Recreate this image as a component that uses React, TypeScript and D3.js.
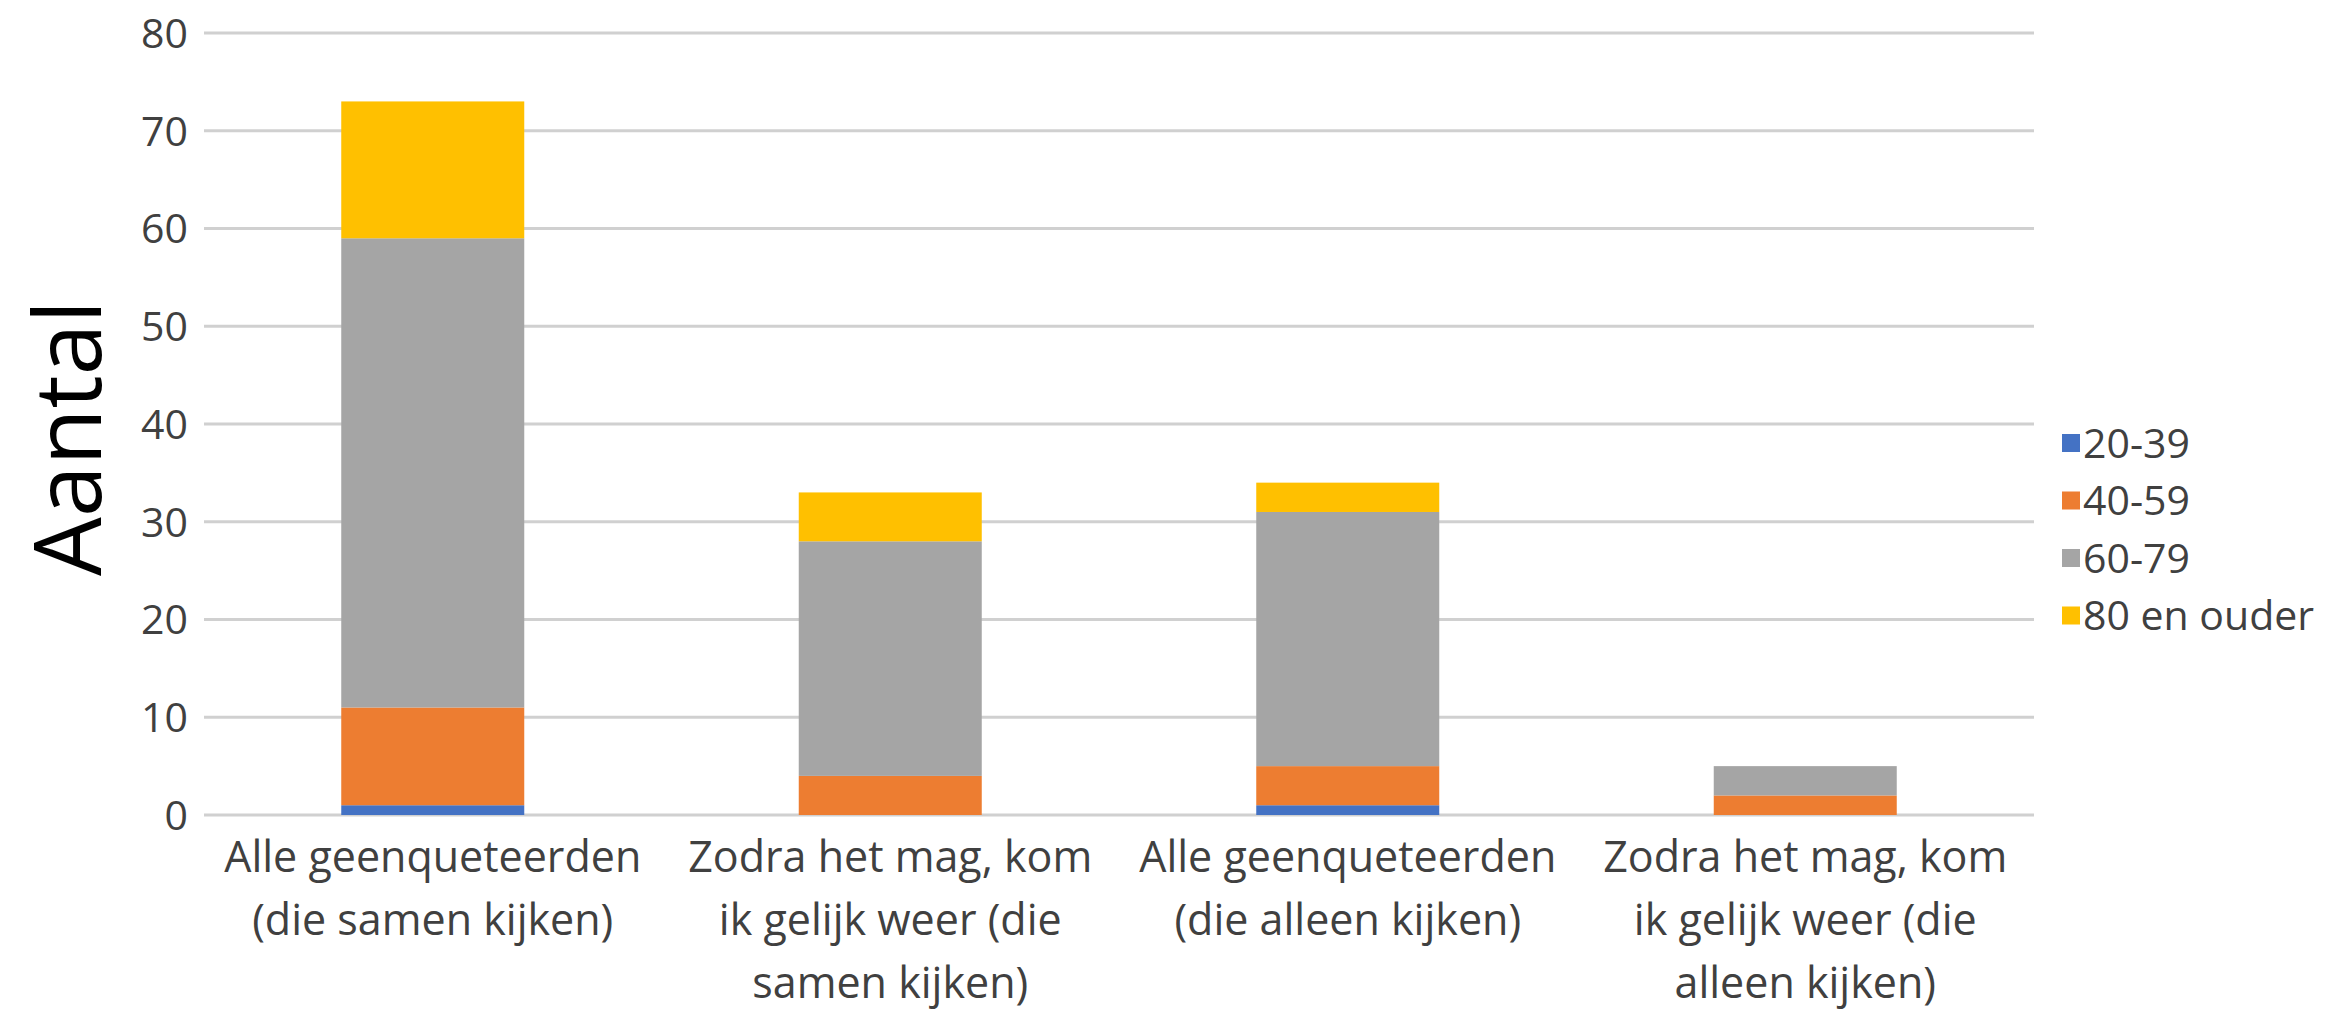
import React, { useEffect, useRef } from 'react';
import * as d3 from 'd3';

// categories (already wrapped the way the original chart wraps them)
const categories = [
  ['Alle geenqueteerden', '(die samen kijken)'],
  ['Zodra het mag, kom', 'ik gelijk weer (die', 'samen kijken)'],
  ['Alle geenqueteerden', '(die alleen kijken)'],
  ['Zodra het mag, kom', 'ik gelijk weer (die', 'alleen kijken)'],
];
const seriesNames = ['20-39', '40-59', '60-79', '80 en ouder'];
const seriesColors = ['#4472C4', '#ED7D31', '#A5A5A5', '#FFC000'];
const age20to39 = [1, 0, 1, 0];
const age40to59 = [10, 4, 4, 2];
const age60to79 = [48, 24, 26, 3];
const age80plus = [14, 5, 3, 0];
const yTicks = [0, 10, 20, 30, 40, 50, 60, 70, 80];

const W = 2325;
const H = 1014;
const FONT = '"Open Sans", sans-serif';

export default function App() {
  const ref = useRef<SVGSVGElement>(null);

  useEffect(() => {
    const svg = d3.select(ref.current);
    svg.selectAll('*').remove();

    const left = 204, right = 2034, top = 33, bottom = 815;

    const rows = categories.map((c, i) => ({
      key: i,
      '20-39': age20to39[i],
      '40-59': age40to59[i],
      '60-79': age60to79[i],
      '80 en ouder': age80plus[i],
    }));

    const x = d3.scaleBand<number>()
      .domain(categories.map((c, i) => i))
      .range([left, right])
      .paddingInner(0.6)
      .paddingOuter(0.3);
    const y = d3.scaleLinear().domain([0, 80]).range([bottom, top]);

    // gridlines
    svg.append('g')
      .selectAll('line')
      .data(yTicks)
      .enter()
      .append('line')
      .attr('x1', left)
      .attr('x2', right)
      .attr('y1', d => y(d))
      .attr('y2', d => y(d))
      .attr('stroke', '#d0d0d0')
      .attr('stroke-width', 3);

    // y tick labels
    svg.append('g')
      .selectAll('text')
      .data(yTicks)
      .enter()
      .append('text')
      .attr('x', 188)
      .attr('y', d => y(d))
      .attr('dy', '0.36em')
      .attr('text-anchor', 'end')
      .attr('font-family', FONT)
      .attr('font-size', 41)
      .attr('fill', '#404040')
      .text(d => d);

    // stacked bars
    const stacked = d3.stack<any>().keys(seriesNames)(rows);
    svg.append('g')
      .selectAll('g')
      .data(stacked)
      .enter()
      .append('g')
      .attr('fill', (d, i) => seriesColors[i])
      .selectAll('rect')
      .data(d => d)
      .enter()
      .append('rect')
      .attr('x', d => x(d.data.key) as number)
      .attr('width', x.bandwidth())
      .attr('y', d => y(d[1]))
      .attr('height', d => y(d[0]) - y(d[1]));

    // x labels
    const xl = svg.append('g')
      .selectAll('text')
      .data(categories)
      .enter()
      .append('text')
      .attr('text-anchor', 'middle')
      .attr('font-family', FONT)
      .attr('font-size', 43)
      .attr('fill', '#404040');
    xl.each(function (lines, i) {
      const t = d3.select(this);
      const cx = (x(i) as number) + x.bandwidth() / 2;
      lines.forEach((line, j) => {
        t.append('tspan')
          .attr('x', cx)
          .attr('y', 872 + j * 63)
          .text(line);
      });
    });

    // y axis title
    svg.append('text')
      .attr('transform', 'translate(101,438) rotate(-90)')
      .attr('text-anchor', 'middle')
      .attr('font-family', FONT)
      .attr('font-size', 93)
      .attr('fill', '#000')
      .text('Aantal');

    // legend
    const lg = svg.append('g')
      .selectAll('g')
      .data(seriesNames)
      .enter()
      .append('g')
      .attr('transform', (d, i) => `translate(2062,${443 + i * 57.5})`);
    lg.append('rect')
      .attr('x', 0)
      .attr('y', -9)
      .attr('width', 18)
      .attr('height', 18)
      .attr('fill', (d, i) => seriesColors[i]);
    lg.append('text')
      .attr('x', 21)
      .attr('dy', '0.36em')
      .attr('font-family', FONT)
      .attr('font-size', 41)
      .attr('fill', '#404040')
      .text(d => d);
  }, []);

  return (
    <svg
      ref={ref}
      width={W}
      height={H}
      style={{ position: 'absolute', left: 0, top: 0, background: '#fff' }}
    />
  );
}
